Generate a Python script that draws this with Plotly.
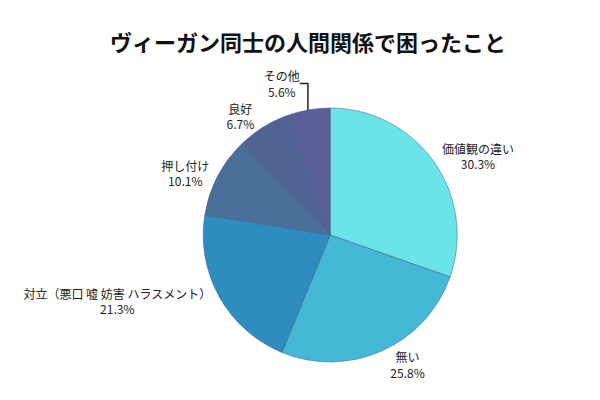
import plotly.graph_objects as go

labels = ["価値観の違い", "無い", "対立（悪口 嘘 妨害 ハラスメント）", "押し付け", "良好", "その他"]
values = [30.3, 25.8, 21.3, 10.1, 6.7, 5.6]
colors = ["#6ae4e8", "#45b8d6", "#2e8cbf", "#4a6f9a", "#4f6394", "#5a5f98"]

fig = go.Figure(go.Pie(
    labels=labels,
    values=values,
    sort=False,
    direction="clockwise",
    rotation=0,
    marker=dict(colors=colors, line=dict(color="#3a5a80", width=0.5)),
    texttemplate="%{label}<br>%{value:.1f}%",
    textposition="outside",
    textfont=dict(size=12, color="#222222"),
    showlegend=False,
    domain=dict(x=[0.325, 0.749], y=[0.115, 0.75]),
))

fig.update_layout(
    width=600, height=400,
    margin=dict(l=0, r=0, t=0, b=0),
    title=dict(text="<b>ヴィーガン同士の人間関係で困ったこと</b>", x=0.5, y=0.93, xanchor="center",
               font=dict(size=22, color="#111111")),
    font=dict(family="Noto Sans CJK JP"),
    paper_bgcolor="white",
)

fig.write_html("out.html")
